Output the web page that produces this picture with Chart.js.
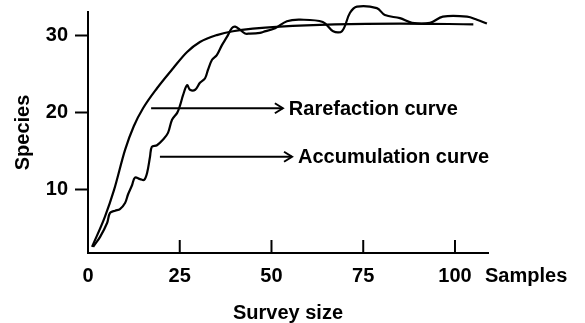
<!DOCTYPE html>
<html>
<head>
<meta charset="utf-8">
<script src="https://cdn.jsdelivr.net/npm/chart.js@4.4.0/dist/chart.umd.min.js"></script>
<style>
  html, body { margin: 0; padding: 0; background: #fff; }
  #wrap { width: 585px; height: 323px; }
</style>
</head>
<body>
<div id="wrap"><canvas id="c" width="585" height="323"></canvas></div>
<script>
// ---- data ----
const xTickValues = [0, 25, 50, 75, 100];
const yTickValues = [10, 20, 30];

const rarefactionX = [1.1, 4.6, 7.1, 10.1, 12.5, 15.0, 18.8, 23.2, 27.0, 30.5, 35.1, 39.5, 52.3, 85.0, 105.0];
const rarefactionY = [2.6, 6.5, 10.0, 15.2, 18.3, 20.6, 23.2, 25.8, 27.9, 29.2, 30.1, 30.6, 31.2, 31.6, 31.5];

const accumulationX = [1.4, 3.3, 5.2, 6.0, 7.4, 8.7, 10.1, 10.9, 12.0, 12.8, 14.2, 15.3, 16.1, 16.9, 17.4, 18.8, 20.4, 21.8, 22.9, 24.3, 25.1, 25.9, 27.0, 27.8, 29.2, 30.5, 31.9, 32.7, 33.8, 35.1, 36.5, 37.9, 39.2, 40.1, 41.4, 42.8, 44.1, 46.9, 47.7, 51.0, 54.2, 57.8, 64.0, 66.8, 69.2, 71.4, 73.3, 78.7, 80.9, 85.0, 88.3, 93.2, 96.7, 103.3, 106.0, 108.7];
const accumulationY = [2.6, 3.9, 5.7, 7.0, 7.3, 7.5, 8.3, 9.4, 10.6, 11.6, 11.4, 11.3, 12.2, 14.3, 15.6, 15.8, 16.5, 17.4, 19.1, 20.0, 21.0, 22.3, 23.6, 23.0, 23.0, 23.9, 24.5, 25.6, 26.9, 27.5, 28.8, 29.9, 31.0, 31.2, 30.8, 30.3, 30.3, 30.4, 30.5, 31.0, 31.9, 32.1, 31.8, 30.6, 30.6, 33.0, 33.8, 33.6, 32.7, 32.3, 31.7, 31.7, 32.5, 32.5, 32.1, 31.6];

// arrow annotations (data coordinates): label, start x, end x, y
const arrowLabels = ["Rarefaction curve", "Accumulation curve"];
const arrowStartX = [17.2, 19.6];
const arrowEndX = [53.1, 55.6];
const arrowY = [20.6, 14.3];

const xTitle = "Survey size";
const yTitle = "Species";
const xUnitLabel = "Samples";

// ---- build ----
const toPts = (xs, ys) => xs.map((x, i) => ({ x: x, y: ys[i] }));
const FONT = "'Liberation Sans', Arial, Helvetica, sans-serif";
const bold20 = { family: FONT, size: 20, weight: 'bold', lineHeight: 1.2 };

const decorPlugin = {
  id: 'decor',
  afterDraw(chart) {
    const ctx = chart.ctx;
    const xs = chart.scales.x, ys = chart.scales.y;
    ctx.save();
    ctx.strokeStyle = '#000';
    ctx.fillStyle = '#000';
    ctx.lineWidth = 2;
    // inward x ticks
    xTickValues.forEach(v => {
      if (v === xs.min) return;
      const px = xs.getPixelForValue(v);
      ctx.beginPath();
      ctx.moveTo(px, xs.top);
      ctx.lineTo(px, xs.top - 13);
      ctx.stroke();
    });
    // unit label at the end of the x axis
    ctx.font = 'bold 20px ' + FONT;
    ctx.textAlign = 'left';
    ctx.textBaseline = 'middle';
    ctx.fillText(xUnitLabel, xs.right - 3, xs.top + 23);
    // arrows + labels
    arrowLabels.forEach((lab, i) => {
      const x0 = xs.getPixelForValue(arrowStartX[i]);
      const x1 = xs.getPixelForValue(arrowEndX[i]);
      const y = ys.getPixelForValue(arrowY[i]);
      ctx.lineWidth = 2;
      ctx.beginPath();
      ctx.moveTo(x0, y);
      ctx.lineTo(x1, y);
      ctx.stroke();
      ctx.beginPath();
      ctx.moveTo(x1 - 8, y - 5);
      ctx.lineTo(x1, y);
      ctx.lineTo(x1 - 8, y + 5);
      ctx.stroke();
      ctx.fillText(lab, x1 + 6, y + 1);
    });
    ctx.restore();
  }
};

new Chart(document.getElementById('c'), {
  type: 'line',
  data: {
    datasets: [
      {
        label: 'Rarefaction',
        data: toPts(rarefactionX, rarefactionY),
        borderColor: '#000',
        borderWidth: 2.2,
        pointRadius: 0,
        cubicInterpolationMode: 'monotone',
        fill: false,
        clip: false
      },
      {
        label: 'Accumulation',
        data: toPts(accumulationX, accumulationY),
        borderColor: '#000',
        borderWidth: 2.2,
        pointRadius: 0,
        tension: 0.35,
        fill: false,
        clip: false
      }
    ]
  },
  options: {
    responsive: false,
    animation: false,
    events: [],
    layout: { padding: { top: 12, right: 97, left: 0, bottom: 0 } },
    plugins: { legend: { display: false }, tooltip: { enabled: false } },
    scales: {
      x: {
        type: 'linear',
        min: 0,
        max: 109,
        afterBuildTicks(s) { s.ticks = xTickValues.map(v => ({ value: v })); },
        afterFit(s) { s.height = 70; s.paddingLeft = 0; s.paddingRight = 0; },
        grid: { display: false, drawTicks: false },
        border: { display: true, color: '#000', width: 2 },
        ticks: { color: '#000', font: bold20, padding: 11, maxRotation: 0, autoSkip: false },
        title: { display: true, text: xTitle, color: '#000', font: bold20, padding: { top: 0, bottom: -2 } }
      },
      y: {
        type: 'linear',
        min: 1.8,
        max: 33.1,
        afterBuildTicks(s) { s.ticks = yTickValues.map(v => ({ value: v })); },
        afterFit(s) { s.width = 88; s.paddingTop = 0; s.paddingBottom = 0; },
        grid: { display: true, drawOnChartArea: false, drawTicks: true, tickLength: 13, tickWidth: 2, tickColor: '#000' },
        border: { display: true, color: '#000', width: 2 },
        ticks: { color: '#000', font: bold20, padding: 7 },
        title: { display: true, text: yTitle, color: '#000', font: bold20, padding: { top: 11, bottom: 0 } }
      }
    }
  },
  plugins: [decorPlugin]
});
</script>
</body>
</html>
